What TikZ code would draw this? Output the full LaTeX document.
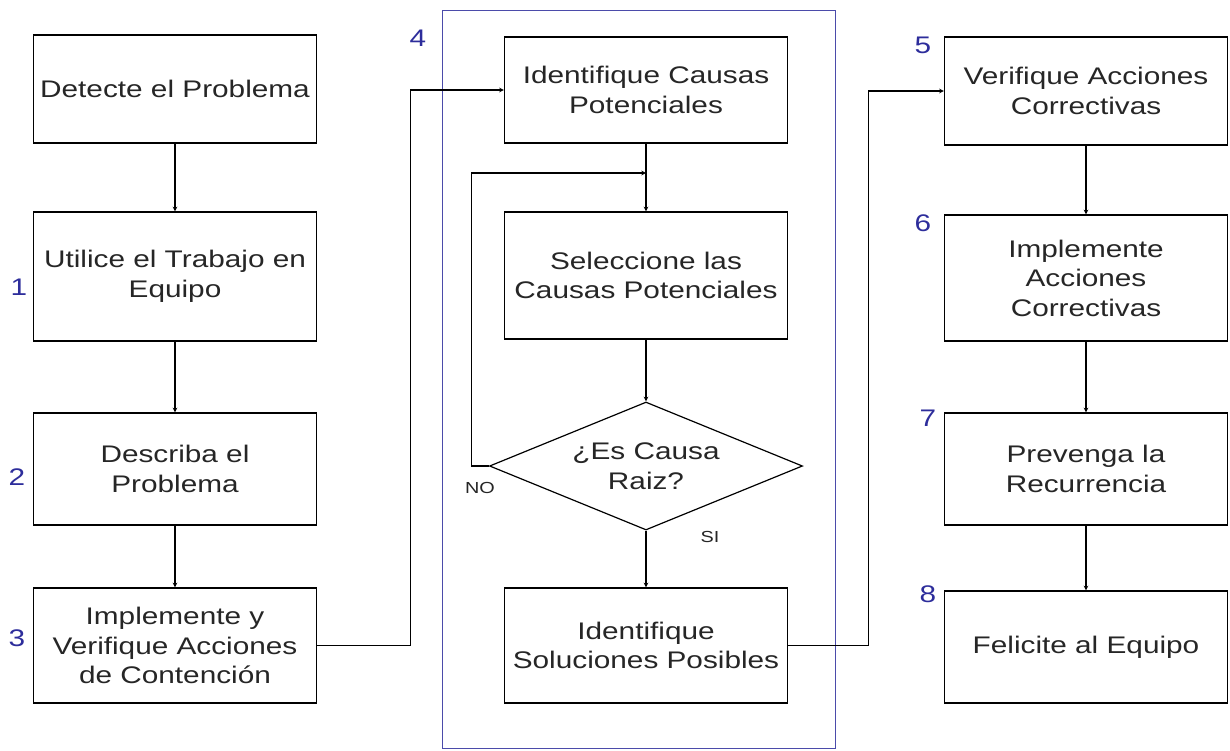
\documentclass[tikz,border=0pt]{standalone}
\usepackage{fontspec}
\setmainfont{Liberation Sans}[FakeStretch=1.24]
\usepackage{tikz}
\usetikzlibrary{
    calc,
    arrows,
    shapes.geometric
}
\definecolor{stepblue}{RGB}{45,45,155}
\definecolor{frameblue}{RGB}{75,75,170}
\tikzset{
    box/.style={draw, rectangle, line width=1.2pt, align=center, inner sep=2pt,
        minimum width=283pt, text=black!85, font=\fontsize{24}{29.5}\selectfont},
    decision/.style={draw, diamond, aspect=2.45, line width=1.2pt, align=center, inner sep=0pt,
        minimum width=313pt, minimum height=128pt, text=black!85, font=\fontsize{24}{29.5}\selectfont},
    num/.style={text=stepblue, inner sep=0pt, font=\fontsize{24}{29.5}\selectfont},
    small/.style={text=black!85, inner sep=0pt, font=\fontsize{16}{18}\selectfont},
    frame/.style={draw=frameblue, line width=0.9pt}
}

\begin{document}
\begin{tikzpicture}[x=1pt, y=-1pt, >=stealth, line width=1.1pt]
        \useasboundingbox (0,0) rectangle (1230,750);

        % left column
        \draw (175,89)    node[box, minimum height=108pt](b0){Detecte el Problema};
        \draw (175,276.5) node[box, minimum height=129pt](b1){Utilice el Trabajo en\\Equipo};
        \draw (175,469)   node[box, minimum height=112pt](b2){Describa el\\Problema};
        \draw (175,645.5) node[box, minimum height=115pt](b3){Implemente y\\Verifique Acciones\\de Contención};

        % step 4 block
        \draw[frame] (442,10) rectangle (835,748);
        \draw (646,90)    node[box, minimum height=106pt](c1){Identifique Causas\\Potenciales};
        \draw (646,275.5) node[box, minimum height=127pt](c2){Seleccione las\\Causas Potenciales};
        \draw (646,466)   node[decision](dec){¿Es Causa\\Raiz?};
        \draw (646,645.5) node[box, minimum height=115pt](c4){Identifique\\Soluciones Posibles};
        \coordinate (lj) at (646,173);

        % right column
        \draw (1086,91)  node[box, minimum height=108pt](r1){Verifique Acciones\\Correctivas};
        \draw (1086,278) node[box, minimum height=126pt](r2){Implemente\\Acciones\\Correctivas};
        \draw (1086,469) node[box, minimum height=112pt](r3){Prevenga la\\Recurrencia};
        \draw (1086,647) node[box, minimum height=112pt](r4){Felicite al Equipo};

        % step numbers
        \draw (19,287)  node[num](n1){1};
        \draw (17,477)  node[num](n2){2};
        \draw (17,638)  node[num](n3){3};
        \draw (418,38)  node[num](n4){4};
        \draw (923,45)  node[num](n5){5};
        \draw (923,223) node[num](n6){6};
        \draw (928,418) node[num](n7){7};
        \draw (928,594) node[num](n8){8};

        \draw (480,488) node[small](no){NO};
        \draw (710,537) node[small](si){SI};

        \draw[->] (b0) -- (b1);
        \draw[->] (b1) -- (b2);
        \draw[->] (b2) -- (b3);
        \draw[->] (b3.east) -- ++(93,0) |- (c1.west);

        \draw[->] (c1) -- (c2);
        \draw[->] (c2) -- (dec);
        \draw[->] (dec) -- (c4);
        \draw[->] (dec.west) -- ++(-17,0) |- (lj);
        \draw[->] (c4.east) -- ++(80,0) |- (r1.west);

        \draw[->] (r1) -- (r2);
        \draw[->] (r2) -- (r3);
        \draw[->] (r3) -- (r4);
    \end{tikzpicture}
\end{document}
